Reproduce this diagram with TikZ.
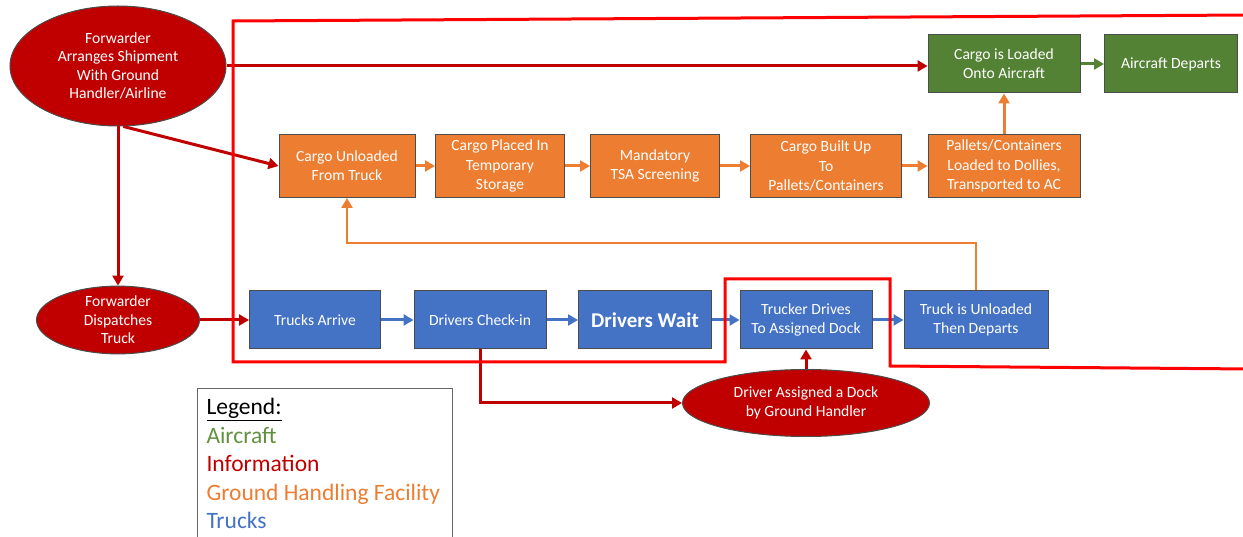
\documentclass[tikz,border=0pt]{standalone}
\usepackage{fontspec}
\setmainfont{Carlito}
\usepackage{xcolor}
\usetikzlibrary{arrows.meta, positioning, shapes.geometric}
\definecolor{infored}{RGB}{192, 0, 0}
\definecolor{facorange}{RGB}{237, 125, 49}
\definecolor{truckblue}{RGB}{68, 114, 196}
\definecolor{acgreen}{RGB}{84, 130, 53}
\definecolor{airgreen}{RGB}{98, 145, 61}
\definecolor{scopered}{RGB}{255, 0, 0}

\begin{document}
\begin{tikzpicture}[x=1pt,y=-1pt,
          box/.style={draw=black!70,line width=1pt,text=white,align=center,
                      inner sep=2pt,font=\fontsize{15.6}{19.2}\selectfont},
          fac/.style={box,fill=facorange,minimum height=63pt},
          truck/.style={box,fill=truckblue,minimum height=58pt},
          plane/.style={box,fill=acgreen,minimum height=58pt},
          info/.style={ellipse,draw=black!70,line width=1pt,fill=infored,text=white,
                       align=center,inner sep=0pt,font=\fontsize{15.6}{18.5}\selectfont},
          flow/.style={line width=3pt,-{Triangle[length=10pt,width=11pt]}}]
        \useasboundingbox (0,0) rectangle (1243,537);
        \node[info,minimum width=216pt,minimum height=120pt](arrange) at (118,66){Forwarder\\Arranges Shipment\\With Ground\\Handler/Airline};
        \node[info,minimum width=163pt,minimum height=66pt](dispatch) at (118,320){Forwarder\\Dispatches\\Truck};
        \node[info,minimum width=247pt,minimum height=67pt](dock) at (806,403){Driver Assigned a Dock\\by Ground Handler};
        \node[fac,minimum width=136pt](unload) at (347,166){Cargo Unloaded\\From Truck};
        \node[fac,minimum width=129pt](store)  at (500,166){Cargo Placed In\\Temporary\\Storage};
        \node[fac,minimum width=129pt](tsa)    at (655,166){Mandatory\\TSA Screening};
        \node[fac,minimum width=151pt](build)  at (826,166){Cargo Built Up\\To\\Pallets/Containers};
        \node[fac,minimum width=152pt](dolly)  at (1004,166){Pallets/Containers\\Loaded to Dollies,\\Transported to AC};
        \node[plane,minimum width=152pt](load)   at (1004,64){Cargo is Loaded\\Onto Aircraft};
        \node[plane,minimum width=133pt](depart) at (1171,64){Aircraft Departs};
        \node[truck,minimum width=131pt](arrive)   at (315,320){Trucks Arrive};
        \node[truck,minimum width=132pt](checkin)  at (480,320){Drivers Check-in};
        \node[truck,minimum width=133pt,font=\fontsize{21}{24}\selectfont\bfseries](wait) at (645,320){Drivers Wait};
        \node[truck,minimum width=132pt](drive)    at (806,320){Trucker Drives\\To Assigned Dock};
        \node[truck,minimum width=144pt](unloaded) at (976,320){Truck is Unloaded\\Then Departs};
        \node[draw=black!60,line width=1pt,anchor=north west,align=flush left,inner xsep=9pt,inner ysep=10pt,
              text width=237pt,font=\fontsize{23.5}{28.5}\selectfont](legend) at (197,388)
              {\underline{Legend:}\\\textcolor{airgreen}{Aircraft}\\\textcolor{infored}{Information}\\
               \textcolor{facorange}{Ground Handling Facility}\\\textcolor{truckblue}{Trucks}\par\vspace*{12pt}};
        \coordinate(back) at (660,243);
        \draw[flow,infored](arrange.east)--(arrange.east -| load.west);
        \draw[flow,infored](arrange.-85)--(unload.west);
        \draw[flow,infored](arrange.south)--(dispatch.north);
        \draw[flow,infored](dispatch)--(arrive);
        \draw[flow,truckblue](arrive)--(checkin);
        \draw[flow,truckblue](checkin)--(wait);
        \draw[flow,truckblue](wait)--(drive);
        \draw[flow,truckblue](drive)--(unloaded);
        \draw[flow,facorange](unload)--(store);
        \draw[flow,facorange](store)--(tsa);
        \draw[flow,facorange](tsa)--(build);
        \draw[flow,facorange](build)--(dolly);
        \draw[flow,facorange](dolly)--(load);
        \draw[flow,acgreen](load)--(depart);
        \draw[flow,facorange,line width=2.5pt](unloaded.north)|-(back)-|(unload.south);
        \draw[flow,infored](checkin.south)|-(dock.west);
        \draw[flow,infored](dock)--(drive);
        \draw[scopered,line width=3pt](1250,15)--(233,21)--(233,362)--(725,362)
          --(725,279)--(890,279)--(890,366)--(1250,369);
      \end{tikzpicture}
\end{document}
